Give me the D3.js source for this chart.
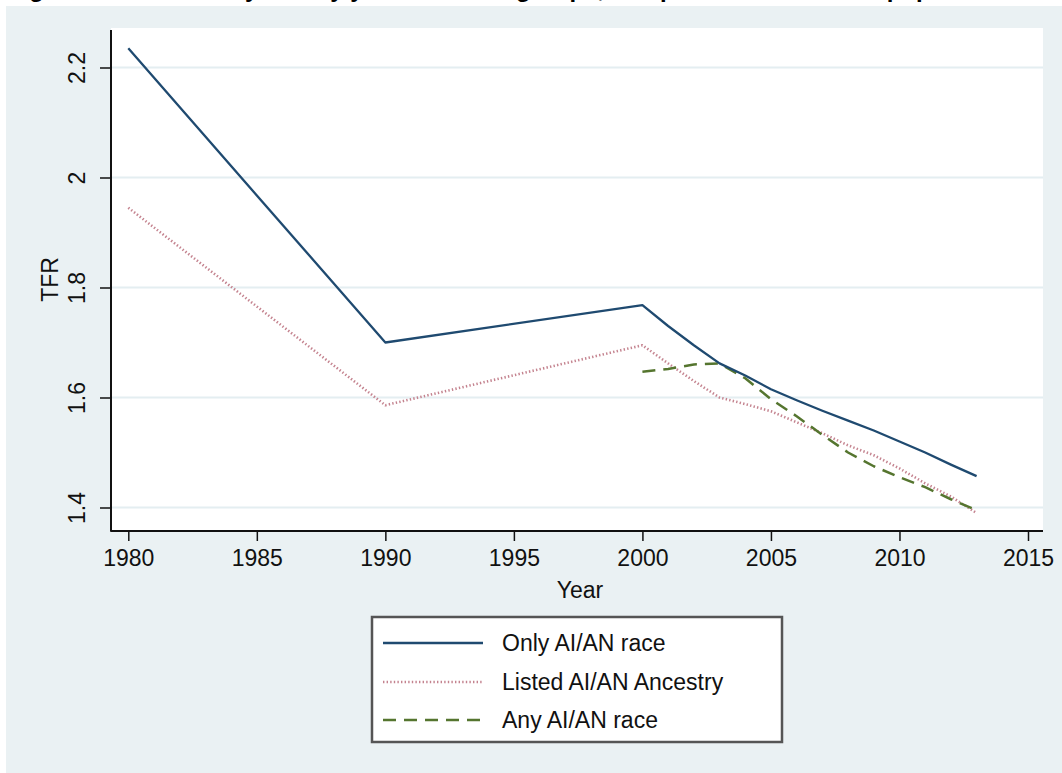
<!DOCTYPE html>
<html>
<head>
<meta charset="utf-8">
<script src="https://cdn.jsdelivr.net/npm/d3@7"></script>
<style>
  html, body { margin: 0; padding: 0; background: #ffffff; }
  svg { display: block; }
  text { font-family: "Liberation Sans", Arial, Helvetica, sans-serif; }
</style>
</head>
<body>
<svg id="chart" width="1062" height="773"></svg>
<script>
// ---- data ----
const titleText = "Figure 2: Total fertility rate by year for AI/AN groups, compared with the total population of the U.S.";
const xTicks = [1980, 1985, 1990, 1995, 2000, 2005, 2010, 2015];
const xTickLabels = ["1980", "1985", "1990", "1995", "2000", "2005", "2010", "2015"];
const yTicks = [1.4, 1.6, 1.8, 2.0, 2.2];
const yTickLabels = ["1.4", "1.6", "1.8", "2", "2.2"];
const xTitle = "Year";
const yTitle = "TFR";

const seriesNames = ["Only AI/AN race", "Listed AI/AN Ancestry", "Any AI/AN race"];

const onlyRaceYears = [1980, 1990, 2000, 2001, 2002, 2003, 2004, 2005, 2006, 2007, 2008, 2009, 2010, 2011, 2012, 2013];
const onlyRaceTFR   = [2.235, 1.700, 1.768, 1.730, 1.695, 1.662, 1.640, 1.615, 1.595, 1.576, 1.558, 1.540, 1.520, 1.500, 1.478, 1.457];

const ancestryYears = [1980, 1990, 2000, 2001, 2002, 2003, 2004, 2005, 2006, 2007, 2008, 2009, 2010, 2011, 2012, 2013];
const ancestryTFR   = [1.945, 1.586, 1.695, 1.662, 1.630, 1.600, 1.588, 1.575, 1.555, 1.535, 1.513, 1.495, 1.471, 1.444, 1.420, 1.390];

const anyRaceYears = [2000, 2001, 2002, 2003, 2004, 2005, 2006, 2007, 2008, 2009, 2010, 2011, 2012, 2013];
const anyRaceTFR   = [1.647, 1.652, 1.660, 1.662, 1.635, 1.597, 1.566, 1.532, 1.500, 1.475, 1.455, 1.437, 1.415, 1.395];

// ---- layout ----
const svg = d3.select("#chart");
const W = 1062, H = 773;
const plot = { left: 111, right: 1043, top: 28, bottom: 531 };

const x = d3.scaleLinear().domain([1980, 2015]).range([128.3, 1028]);
const y = d3.scaleLinear().domain([1.4, 2.2]).range([507.5, 67.5]);

// title (cropped at the top edge in the reference: only descenders show)
svg.append("text")
  .attr("x", 8).attr("y", -3)
  .attr("font-size", 24).attr("font-weight", "bold")
  .attr("fill", "#000")
  .text(titleText);

// graph background
svg.append("rect")
  .attr("x", 6).attr("y", 6).attr("width", W - 6).attr("height", H - 6)
  .attr("fill", "#eaf1f3");

// plot region
svg.append("rect")
  .attr("x", plot.left).attr("y", plot.top)
  .attr("width", plot.right - plot.left).attr("height", plot.bottom - plot.top)
  .attr("fill", "#ffffff");

// gridlines
svg.append("g").selectAll("line").data(yTicks).join("line")
  .attr("x1", plot.left).attr("x2", plot.right)
  .attr("y1", d => y(d)).attr("y2", d => y(d))
  .attr("stroke", "#e4eef1").attr("stroke-width", 2);

// axes
const xAxis = svg.append("g")
  .attr("transform", `translate(0,${plot.bottom})`)
  .call(d3.axisBottom(x).tickValues(xTicks).tickFormat((d, i) => xTickLabels[i]).tickSize(10).tickPadding(9).tickSizeOuter(0));
xAxis.select(".domain").remove();
xAxis.selectAll(".tick line").attr("stroke", "#111").attr("stroke-width", 1.5);
xAxis.selectAll(".tick text").attr("font-size", 23).attr("fill", "#111")
  .attr("font-family", "'Liberation Sans', Arial, sans-serif");

const yAxis = svg.append("g")
  .attr("transform", `translate(${plot.left},0)`)
  .call(d3.axisLeft(y).tickValues(yTicks).tickFormat((d, i) => yTickLabels[i]).tickSize(11).tickSizeOuter(0));
yAxis.select(".domain").remove();
yAxis.selectAll(".tick line").attr("stroke", "#111").attr("stroke-width", 1.5);
yAxis.selectAll(".tick text")
  .attr("font-size", 23).attr("fill", "#111")
  .attr("font-family", "'Liberation Sans', Arial, sans-serif")
  .attr("x", null).attr("dy", null)
  .attr("text-anchor", "middle")
  .attr("transform", "translate(-26,0) rotate(-90)");

// axis lines
svg.append("line")
  .attr("x1", plot.left).attr("x2", plot.left)
  .attr("y1", plot.top + 2).attr("y2", plot.bottom + 0.75)
  .attr("stroke", "#111").attr("stroke-width", 2);
svg.append("line")
  .attr("x1", plot.left).attr("x2", plot.right)
  .attr("y1", plot.bottom).attr("y2", plot.bottom)
  .attr("stroke", "#111").attr("stroke-width", 2);

// axis titles
svg.append("text")
  .attr("x", (plot.left + plot.right) / 2 + 3).attr("y", 598)
  .attr("text-anchor", "middle").attr("font-size", 23).attr("fill", "#111")
  .text(xTitle);
svg.append("text")
  .attr("transform", `translate(58,${(plot.top + plot.bottom) / 2}) rotate(-90)`)
  .attr("text-anchor", "middle").attr("font-size", 23).attr("fill", "#111")
  .text(yTitle);

// series
const styles = [
  { color: "#1f4a70", width: 2.3, dash: null },
  { color: "#c4838f", width: 2.6, dash: "1.4,2.2" },
  { color: "#55752f", width: 2.5, dash: "13,8" }
];
const series = [
  { name: seriesNames[0], years: onlyRaceYears, vals: onlyRaceTFR },
  { name: seriesNames[1], years: ancestryYears, vals: ancestryTFR },
  { name: seriesNames[2], years: anyRaceYears, vals: anyRaceTFR }
];
const line = d3.line().x(d => x(d[0])).y(d => y(d[1]));

// draw order: ancestry, any, only
[1, 2, 0].forEach(i => {
  const s = series[i], st = styles[i];
  svg.append("path")
    .datum(s.years.map((yr, j) => [yr, s.vals[j]]))
    .attr("d", line)
    .attr("fill", "none")
    .attr("stroke", st.color)
    .attr("stroke-width", st.width)
    .attr("stroke-dasharray", st.dash)
    .attr("stroke-linejoin", "round");
});

// legend
const lg = svg.append("g");
lg.append("rect")
  .attr("x", 372).attr("y", 617).attr("width", 410).attr("height", 125)
  .attr("fill", "#ffffff").attr("stroke", "#555").attr("stroke-width", 2.5);
const legendRows = [643, 682, 720];
series.forEach((s, i) => {
  const st = styles[i];
  lg.append("line")
    .attr("x1", 383).attr("x2", 483)
    .attr("y1", legendRows[i]).attr("y2", legendRows[i])
    .attr("stroke", st.color).attr("stroke-width", st.width)
    .attr("stroke-dasharray", st.dash);
  lg.append("text")
    .attr("x", 502).attr("y", legendRows[i])
    .attr("dy", "0.35em")
    .attr("font-size", 23).attr("fill", "#111")
    .text(s.name);
});
</script>
</body>
</html>
